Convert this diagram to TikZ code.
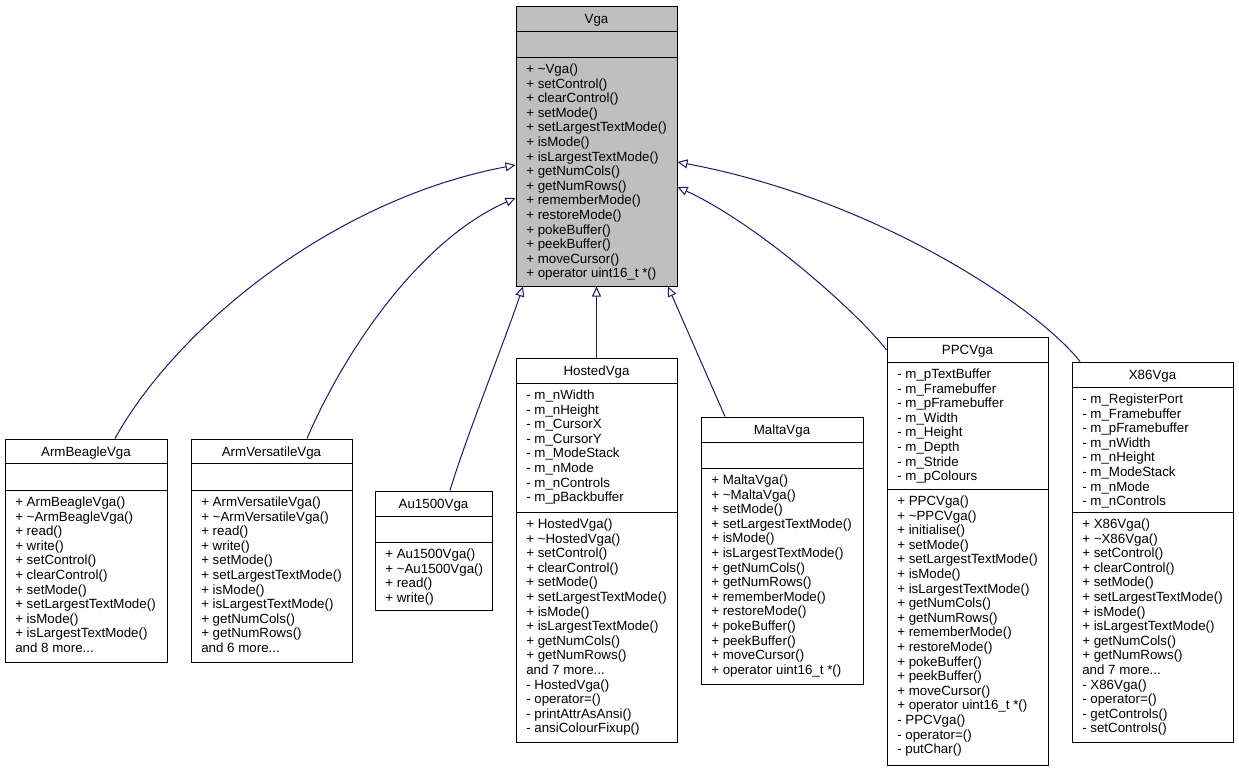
\documentclass[tikz,border=0pt]{standalone}
\usepackage{fontspec}
\setmainfont{Liberation Sans}
\usetikzlibrary{arrows.meta,fit}
\definecolor{edgeblue}{HTML}{191970}
\definecolor{rootgray}{HTML}{BFBFBF}
\newcommand{\tdots}{...}
\tikzset{
  classbox/.style={draw=black, line width=0.75pt, inner sep=0pt},
  classline/.style={draw=black, line width=0.75pt},
  titletext/.style={anchor=base, inner sep=0pt, font=\fontsize{10}{12}\selectfont},
  membertext/.style={anchor=base west, inner sep=0pt, font=\fontsize{10}{12}\selectfont},
  edge/.style={draw=edgeblue, line width=0.75pt, -{Triangle[open, length=7.5pt, width=6.75pt]}},
}
% #1 name, #2 left, #3 top, #4 right, #5 sep1, #6 sep2, #7 bottom, #8 fill, #9 title
\newcommand{\umlclass}[9]{%
  \node[classbox, fill=#8, fit={(#2,#3) (#4,#7)}] (#1) {};
  \draw[classline] (#2,#5) -- (#4,#5);
  \draw[classline] (#2,#6) -- (#4,#6);
  \node[titletext] (#1-title) at ({(#2+#4)/2},{#3+17}) {#9};
}
% #1 x, #2 first baseline, #3 list
\newcommand{\umllines}[3]{%
  \foreach \t [count=\i from 0] in {#3} {
    \node[membertext] at (#1,{#2+\i*14.6}) {\t};
  }
}
\begin{document}
\begin{tikzpicture}[x=0.75pt,y=-0.75pt]
\fill[white] (0,0) rectangle (1239,771);
\useasboundingbox (0,0) rectangle (1239,771);

% Vga
\umlclass{vga}{516}{6}{677}{31}{57}{286}{rootgray}{Vga}
\umllines{526}{73.5}{{+ \textasciitilde Vga()},{+ setControl()},{+ clearControl()},{+ setMode()},{+ setLargestTextMode()},{+ isMode()},{+ isLargestTextMode()},{+ getNumCols()},{+ getNumRows()},{+ rememberMode()},{+ restoreMode()},{+ pokeBuffer()},{+ peekBuffer()},{+ moveCursor()},{+ operator uint16\_t *()}}

% ArmBeagleVga
\umlclass{beagle}{5}{439}{167}{463}{490}{662}{white}{ArmBeagleVga}
\umllines{15}{506.5}{{+ ArmBeagleVga()},{+ \textasciitilde ArmBeagleVga()},{+ read()},{+ write()},{+ setControl()},{+ clearControl()},{+ setMode()},{+ setLargestTextMode()},{+ isMode()},{+ isLargestTextMode()},{and 8 more\tdots}}

% ArmVersatileVga
\umlclass{versatile}{191}{439}{352}{463}{490}{662}{white}{ArmVersatileVga}
\umllines{201}{506.5}{{+ ArmVersatileVga()},{+ \textasciitilde ArmVersatileVga()},{+ read()},{+ write()},{+ setMode()},{+ setLargestTextMode()},{+ isMode()},{+ isLargestTextMode()},{+ getNumCols()},{+ getNumRows()},{and 6 more\tdots}}

% Au1500Vga
\umlclass{au}{375}{491}{492}{516}{542}{610}{white}{Au1500Vga}
\umllines{385}{558.5}{{+ Au1500Vga()},{+ \textasciitilde Au1500Vga()},{+ read()},{+ write()}}

% HostedVga
\umlclass{hosted}{516}{358}{677}{383}{512}{742}{white}{HostedVga}
\umllines{526}{399.5}{{- m\_nWidth},{- m\_nHeight},{- m\_CursorX},{- m\_CursorY},{- m\_ModeStack},{- m\_nMode},{- m\_nControls},{- m\_pBackbuffer}}
\umllines{526}{528.5}{{+ HostedVga()},{+ \textasciitilde HostedVga()},{+ setControl()},{+ clearControl()},{+ setMode()},{+ setLargestTextMode()},{+ isMode()},{+ isLargestTextMode()},{+ getNumCols()},{+ getNumRows()},{and 7 more\tdots},{- HostedVga()},{- operator=()},{- printAttrAsAnsi()},{- ansiColourFixup()}}

% MaltaVga
\umlclass{malta}{701}{417}{863}{442}{468}{684}{white}{MaltaVga}
\umllines{711}{484.5}{{+ MaltaVga()},{+ \textasciitilde MaltaVga()},{+ setMode()},{+ setLargestTextMode()},{+ isMode()},{+ isLargestTextMode()},{+ getNumCols()},{+ getNumRows()},{+ rememberMode()},{+ restoreMode()},{+ pokeBuffer()},{+ peekBuffer()},{+ moveCursor()},{+ operator uint16\_t *()}}

% PPCVga
\umlclass{ppc}{887}{337}{1048}{362}{489}{765}{white}{PPCVga}
\umllines{897}{378.5}{{- m\_pTextBuffer},{- m\_Framebuffer},{- m\_pFramebuffer},{- m\_Width},{- m\_Height},{- m\_Depth},{- m\_Stride},{- m\_pColours}}
\umllines{897}{505.5}{{+ PPCVga()},{+ \textasciitilde PPCVga()},{+ initialise()},{+ setMode()},{+ setLargestTextMode()},{+ isMode()},{+ isLargestTextMode()},{+ getNumCols()},{+ getNumRows()},{+ rememberMode()},{+ restoreMode()},{+ pokeBuffer()},{+ peekBuffer()},{+ moveCursor()},{+ operator uint16\_t *()},{- PPCVga()},{- operator=()},{- putChar()}}

% X86Vga
\umlclass{x86}{1072}{362}{1233}{387}{512}{742}{white}{X86Vga}
\umllines{1082}{403.5}{{- m\_RegisterPort},{- m\_Framebuffer},{- m\_pFramebuffer},{- m\_nWidth},{- m\_nHeight},{- m\_ModeStack},{- m\_nMode},{- m\_nControls}}
\umllines{1082}{528.5}{{+ X86Vga()},{+ \textasciitilde X86Vga()},{+ setControl()},{+ clearControl()},{+ setMode()},{+ setLargestTextMode()},{+ isMode()},{+ isLargestTextMode()},{+ getNumCols()},{+ getNumRows()},{and 7 more\tdots},{- X86Vga()},{- operator=()},{- getControls()},{- setControls()}}

% Inheritance edges
\draw[edge] (115,0 |- beagle.north) .. controls (175,330) and (330,200) .. (vga.west |- 0,165);
\draw[edge] (307,0 |- versatile.north) .. controls (345,350) and (420,240) .. (vga.west |- 0,198);
\draw[edge] (450,0 |- au.north) .. controls (465,440) and (505,340) .. (523,0 |- vga.south);
\draw[edge] (hosted.north) -- (vga.south);
\draw[edge] (725,0 |- malta.north) -- (668,0 |- vga.south);
\draw[edge] (ppc.west |- 0,350) .. controls (860,315) and (760,225) .. (vga.east |- 0,187);
\draw[edge] (1080,0 |- x86.north) .. controls (1040,310) and (880,200) .. (vga.east |- 0,162);
\end{tikzpicture}
\end{document}
